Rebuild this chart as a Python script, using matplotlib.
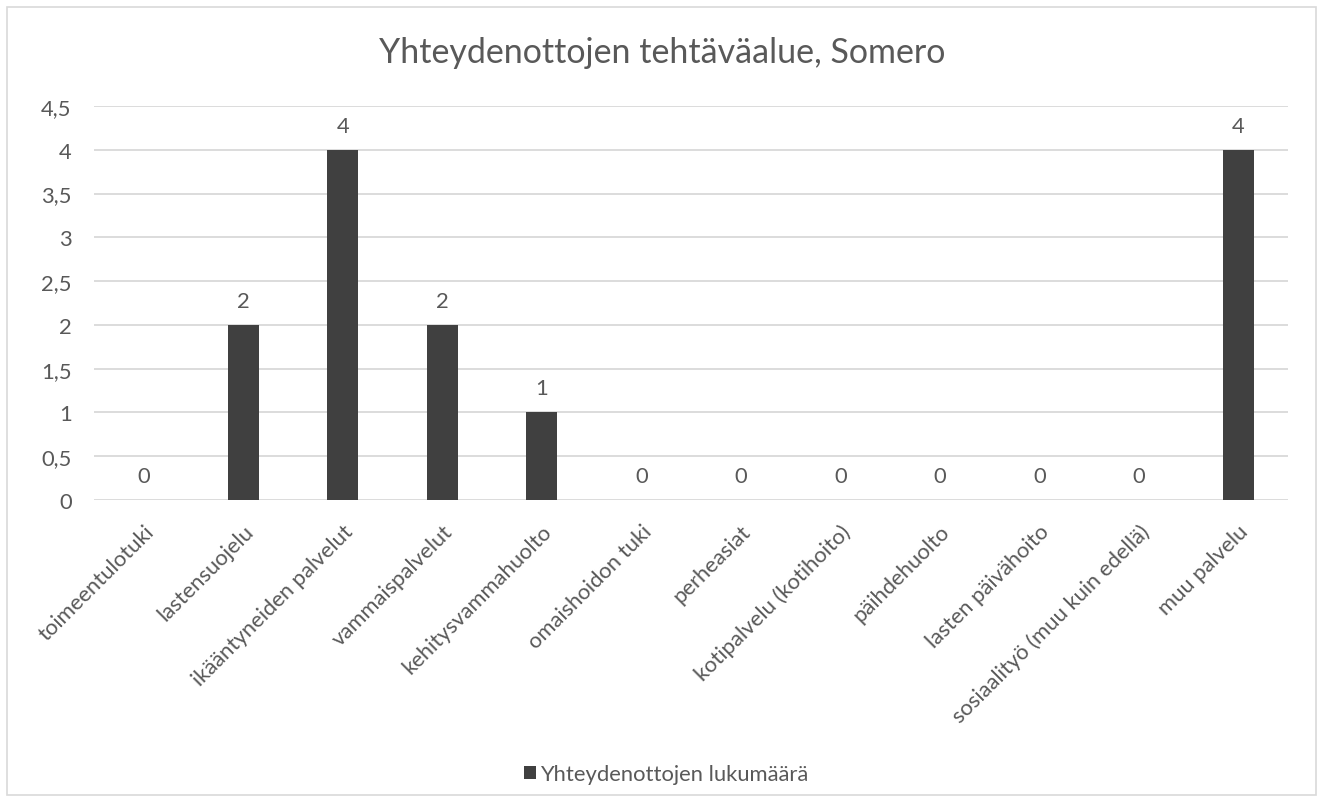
import matplotlib.pyplot as plt
from matplotlib.patches import Rectangle

kategoriat = ['toimeentulotuki', 'lastensuojelu', 'ikääntyneiden palvelut',
              'vammaispalvelut', 'kehitysvammahuolto', 'omaishoidon tuki',
              'perheasiat', 'kotipalvelu (kotihoito)', 'päihdehuolto',
              'lasten päivähoito', 'sosiaalityö (muu kuin edellä)', 'muu palvelu']
lukumaara = [0, 2, 4, 2, 1, 0, 0, 0, 0, 0, 0, 4]
y_tikit = [0, 0.5, 1, 1.5, 2, 2.5, 3, 3.5, 4, 4.5]
y_tekstit = ['0', '0,5', '1', '1,5', '2', '2,5', '3', '3,5', '4', '4,5']

plt.rcParams['font.family'] = ['Lato', 'DejaVu Sans']
teksti = '#595959'
koko = 15.8

W, H = 1324, 804
fig = plt.figure(figsize=(W / 100, H / 100), dpi=100)
fig.patches.append(Rectangle((7 / W, 8 / H), 1309 / W, 788 / H, transform=fig.transFigure,
                             fill=False, edgecolor='#d9d9d9', linewidth=1.2))

ax = fig.add_axes([94 / W, 1 - 501 / H, 1194 / W, 394 / H])
x = range(len(kategoriat))
palkit = ax.bar(x, lukumaara, width=0.31, color='#404040', zorder=3,
                label='Yhteydenottojen lukumäärä')
for xi, v in zip(x, lukumaara):
    ax.annotate(str(v), (xi, v), xytext=(0, 24), textcoords='offset pixels',
                ha='center', va='center', fontsize=koko, color=teksti)

ax.set_xlim(-0.5, len(kategoriat) - 0.5)
ax.set_ylim(0, 4.5)
ax.set_yticks(y_tikit)
ax.set_yticklabels(y_tekstit)
ax.yaxis.grid(True, color='#d9d9d9', linewidth=1.3, zorder=0)
ax.set_axisbelow(True)
for s in ax.spines.values():
    s.set_visible(False)
ax.tick_params(axis='y', length=0, pad=16, labelsize=koko, labelcolor=teksti)
ax.tick_params(axis='x', length=0, pad=15, labelsize=koko, labelcolor=teksti)
ax.set_xticks(list(x))
ax.set_xticklabels(kategoriat, rotation=45, ha='right', va='top', rotation_mode='anchor')

fig.text(662 / W, 1 - 63 / H, 'Yhteydenottojen tehtäväalue, Somero', ha='center', va='baseline',
         fontsize=24.5, color=teksti)

fig.legend(handles=[palkit], loc='center', bbox_to_anchor=(666 / W, 1 - 775 / H),
           frameon=False, fontsize=koko, labelcolor=teksti, handlelength=0.55,
           handleheight=0.55, handletextpad=0.2)

fig.savefig('out.png', dpi=100, facecolor='white')
